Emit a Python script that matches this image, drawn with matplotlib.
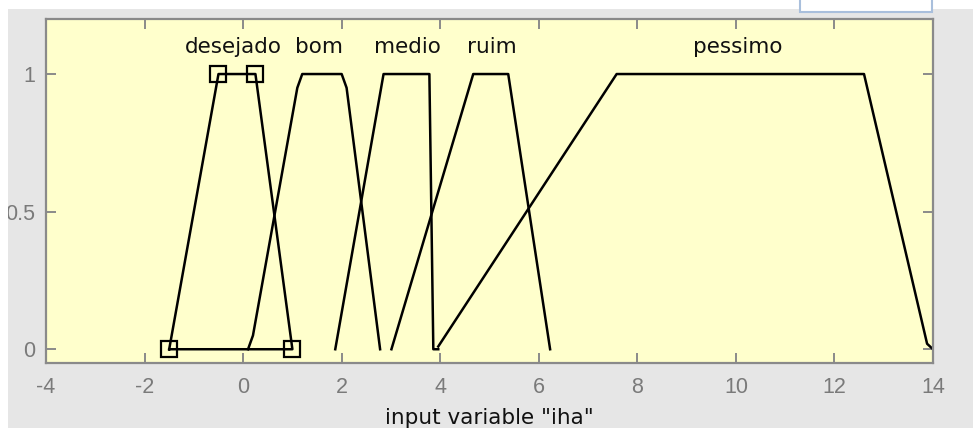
import matplotlib
matplotlib.use("Agg")
import matplotlib.pyplot as plt
from matplotlib.patches import Rectangle

# membership functions of input variable "iha"
desejado_x = [-1.5, -0.5, 0.25, 1.0, -1.5]
desejado_y = [0, 1, 1, 0, 0]
desejado_pts_x = [-1.5, -0.5, 0.25, 1.0]
desejado_pts_y = [0, 1, 1, 0]

bom_x = [0.1, 0.2, 1.1, 1.2, 2.0, 2.1, 2.78]
bom_y = [0, 0.05, 0.95, 1, 1, 0.95, 0]

medio_x = [1.87, 2.85, 3.78, 3.8, 3.86, 3.96]
medio_y = [0, 1, 1, 0.75, 0, 0]

ruim_x = [3.01, 4.67, 5.38, 6.23]
ruim_y = [0, 1, 1, 0]

pessimo_x = [3.96, 7.58, 12.6, 13.88, 14.0]
pessimo_y = [0.01, 1, 1, 0.02, 0]

mf_names = ["desejado", "bom", "medio", "ruim", "pessimo"]
mf_label_x = [-0.2, 1.53, 3.34, 5.04, 10.04]

xticks = [-4, -2, 0, 2, 4, 6, 8, 10, 12, 14]
yticks = [0, 0.5, 1]
ytick_labels = ["0", "0.5", "1"]

fig_bg = "#e6e6e6"
ax_bg = "#ffffcc"
gray = "#8a8a8a"

fig = plt.figure(figsize=(9.73, 4.28), dpi=100, facecolor=fig_bg)
ax = fig.add_axes([46 / 973, 1 - 363 / 428, 887 / 973, 344 / 428])
ax.set_facecolor(ax_bg)

lw = 1.8
ax.plot(desejado_x, desejado_y, color="black", lw=lw)
ax.plot(desejado_pts_x, desejado_pts_y, ls="none", marker="s", ms=11,
        mfc="none", mec="black", mew=1.6)
for xs, ys in [(bom_x, bom_y), (medio_x, medio_y), (ruim_x, ruim_y),
               (pessimo_x, pessimo_y)]:
    ax.plot(xs, ys, color="black", lw=lw)

for name, lx in zip(mf_names, mf_label_x):
    ax.text(lx, 1.1, name, ha="center", va="center", fontsize=15.5,
            family="DejaVu Sans", color="#111111")

ax.set_xlim(-4, 14)
ax.set_ylim(-0.05, 1.2)
ax.set_xticks(xticks)
ax.set_xticklabels([str(t) for t in xticks])
ax.set_yticks(yticks)
ax.set_yticklabels(ytick_labels)

for sp in ax.spines.values():
    sp.set_color(gray)
    sp.set_linewidth(1.6)

ax.tick_params(direction="in", top=True, right=True, length=7, width=1.4,
               color=gray, labelcolor="#7a7a7a", labelsize=15.5)
ax.tick_params(axis="x", pad=10)
ax.tick_params(axis="y", pad=8)
for lab in ax.get_xticklabels() + ax.get_yticklabels():
    lab.set_family("Liberation Sans")

ax.set_xlabel('input variable "iha"', fontsize=15.5, family="DejaVu Sans",
              color="#111111", labelpad=7)

# white window strips and the clipped edit box at the top right
fig.add_artist(Rectangle((0, 1 - 9 / 428), 1, 9 / 428, transform=fig.transFigure,
                         facecolor="white", edgecolor="none", zorder=10))
fig.add_artist(Rectangle((0, 0), 8 / 973, 1, transform=fig.transFigure,
                         facecolor="white", edgecolor="none", zorder=10))
fig.add_artist(Rectangle((800 / 973, 1 - 12 / 428), 132 / 973, 20 / 428,
                         transform=fig.transFigure, facecolor="white",
                         edgecolor="#a9bfdc", lw=1.5, zorder=11))

fig.savefig("out.png", dpi=100, facecolor=fig_bg)
